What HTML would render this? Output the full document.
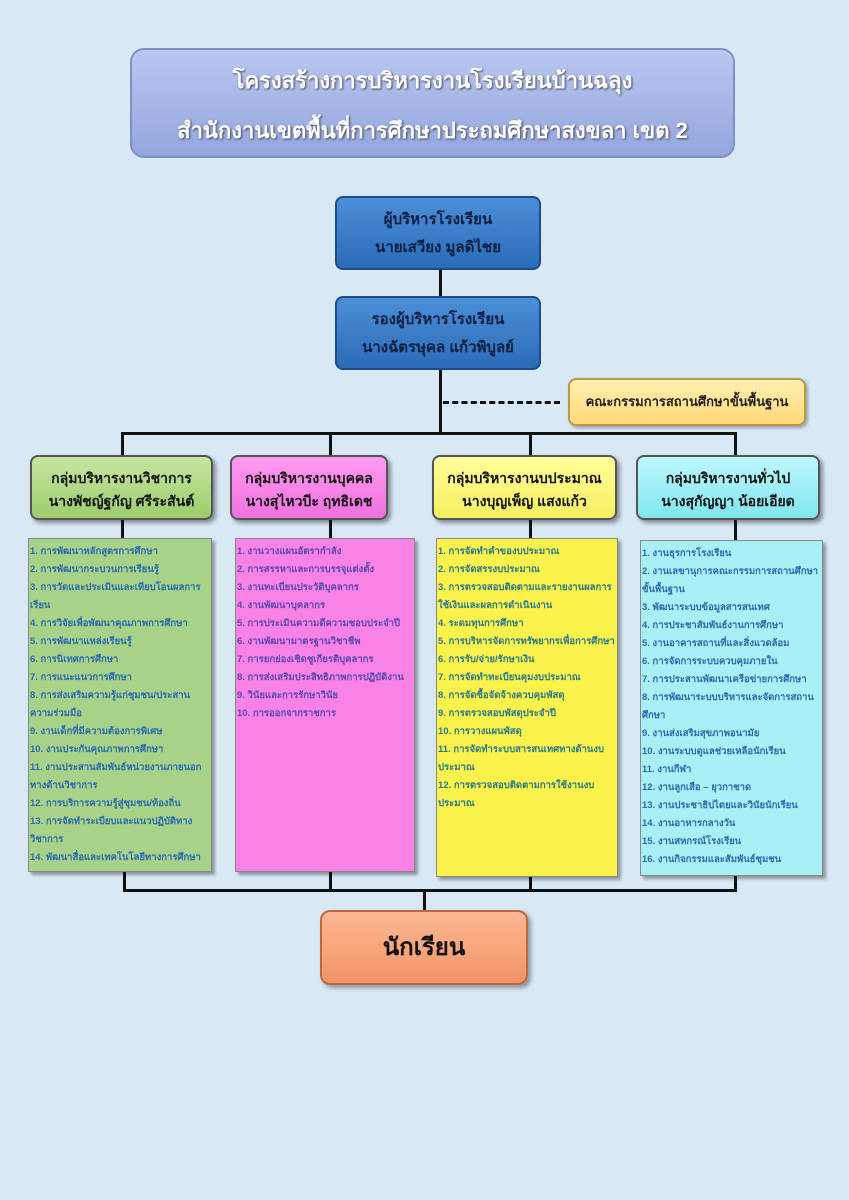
<!DOCTYPE html>
<html><head><meta charset="utf-8"><style>
body{margin:0;width:849px;height:1200px;background:#d9e8f5;position:relative;overflow:hidden;font-family:"Liberation Sans","Noto Sans CJK SC",sans-serif}
.a{position:absolute;box-sizing:border-box}
.ln{position:absolute;background:#111}
.t{text-align:center;font-weight:bold}
.list{font-size:9.5px;line-height:18px;padding:4px 1px;font-weight:bold;border:1px solid #888;box-shadow:3px 3px 3px rgba(0,0,0,.35)}
.grp{border-radius:8px;border:2px solid #555;box-shadow:3px 3px 4px rgba(0,0,0,.4);font-size:14px;line-height:23px;padding-top:10px;color:#111}
</style></head><body>
<div class="a t" style="left:130px;top:48px;width:605px;height:110px;border-radius:14px;background:linear-gradient(#b9c7f0,#93a6de);border:2px solid #7f8fc8;color:#fff;font-size:22px;line-height:50px;padding-top:6px;text-shadow:1px 1px 2px #445">โครงสร้างการบริหารงานโรงเรียนบ้านฉลุง<br>สำนักงานเขตพื้นที่การศึกษาประถมศึกษาสงขลา เขต 2</div>

<div class="a t" style="left:335px;top:196px;width:206px;height:74px;border-radius:8px;background:linear-gradient(#4b8fd6,#2b6bb8);border:2px solid #1d4c8a;font-size:15px;line-height:28px;padding-top:8px;color:#0c1e40">ผู้บริหารโรงเรียน<br>นายเสวียง มูลดิไชย</div>
<div class="ln" style="left:439px;top:270px;width:3px;height:26px"></div>
<div class="a t" style="left:335px;top:296px;width:206px;height:74px;border-radius:8px;background:linear-gradient(#4b8fd6,#2b6bb8);border:2px solid #1d4c8a;font-size:15px;line-height:28px;padding-top:8px;color:#0c1e40">รองผู้บริหารโรงเรียน<br>นางฉัตรษุคล แก้วพิบูลย์</div>
<div class="ln" style="left:439px;top:370px;width:3px;height:64px"></div>
<div class="a" style="left:443px;top:401px;width:117px;border-top:3px dashed #111"></div>
<div class="a t" style="left:568px;top:378px;width:238px;height:48px;border-radius:8px;background:linear-gradient(#fff0b0,#ffd97a);border:2px solid #b99a40;font-size:13px;line-height:44px;color:#222;box-shadow:2px 2px 3px rgba(0,0,0,.3)">คณะกรรมการสถานศึกษาขั้นพื้นฐาน</div>

<div class="ln" style="left:122px;top:432px;width:614px;height:3px"></div>
<div class="ln" style="left:121px;top:432px;width:3px;height:24px"></div>
<div class="ln" style="left:329px;top:432px;width:3px;height:24px"></div>
<div class="ln" style="left:529px;top:432px;width:3px;height:24px"></div>
<div class="ln" style="left:734px;top:432px;width:3px;height:24px"></div>

<div class="a t grp" style="left:30px;top:455px;width:183px;height:65px;background:linear-gradient(#c6e6a0,#9ccd6c)">กลุ่มบริหารงานวิชาการ<br>นางพัชญ์ฐกัญ ศรีระสันต์</div>
<div class="a t grp" style="left:230px;top:455px;width:158px;height:65px;background:linear-gradient(#ff9cf0,#f070e0)">กลุ่มบริหารงานบุคคล<br>นางสุไหวบีะ ฤทธิเดช</div>
<div class="a t grp" style="left:432px;top:455px;width:185px;height:65px;background:linear-gradient(#ffff9a,#f5f060)">กลุ่มบริหารงานบประมาณ<br>นางบุญเพ็ญ แสงแก้ว</div>
<div class="a t grp" style="left:636px;top:455px;width:184px;height:65px;background:linear-gradient(#bff8ff,#80e6f0)">กลุ่มบริหารงานทั่วไป<br>นางสุกัญญา น้อยเอียด</div>

<div class="ln" style="left:121px;top:520px;width:3px;height:18px"></div>
<div class="ln" style="left:329px;top:520px;width:3px;height:18px"></div>
<div class="ln" style="left:529px;top:520px;width:3px;height:18px"></div>
<div class="ln" style="left:734px;top:520px;width:3px;height:20px"></div>

<div class="a list" style="left:28px;top:538px;width:184px;height:334px;background:#a8d288;color:#2a6cb0">1. การพัฒนาหลักสูตรการศึกษา<br>2. การพัฒนากระบวนการเรียนรู้<br>3. การวัดและประเมินและเทียบโอนผลการเรียน<br>4. การวิจัยเพื่อพัฒนาคุณภาพการศึกษา<br>5. การพัฒนาแหล่งเรียนรู้<br>6. การนิเทศการศึกษา<br>7. การแนะแนวการศึกษา<br>8. การส่งเสริมความรู้แก่ชุมชน/ประสานความร่วมมือ<br>9. งานเด็กที่มีความต้องการพิเศษ<br>10. งานประกันคุณภาพการศึกษา<br>11. งานประสานสัมพันธ์หน่วยงานภายนอกทางด้านวิชาการ<br>12. การบริการความรู้สู่ชุมชน/ท้องถิ่น<br>13. การจัดทำระเบียบและแนวปฏิบัติทางวิชาการ<br>14. พัฒนาสื่อและเทคโนโลยีทางการศึกษา</div>
<div class="a list" style="left:235px;top:538px;width:180px;height:334px;background:#f882e6;color:#5a4ab0">1. งานวางแผนอัตรากำลัง<br>2. การสรรหาและการบรรจุแต่งตั้ง<br>3. งานทะเบียนประวัติบุคลากร<br>4. งานพัฒนาบุคลากร<br>5. การประเมินความดีความชอบประจำปี<br>6. งานพัฒนามาตรฐานวิชาชีพ<br>7. การยกย่องเชิดชูเกียรติบุคลากร<br>8. การส่งเสริมประสิทธิภาพการปฏิบัติงาน<br>9. วินัยและการรักษาวินัย<br>10. การออกจากราชการ</div>
<div class="a list" style="left:436px;top:538px;width:182px;height:339px;background:#fbf24c;color:#2a7a8a">1. การจัดทำคำของบประมาณ<br>2. การจัดสรรงบประมาณ<br>3. การตรวจสอบติดตามและรายงานผลการใช้เงินและผลการดำเนินงาน<br>4. ระดมทุนการศึกษา<br>5. การบริหารจัดการทรัพยากรเพื่อการศึกษา<br>6. การรับ/จ่าย/รักษาเงิน<br>7. การจัดทำทะเบียนคุมงบประมาณ<br>8. การจัดซื้อจัดจ้างควบคุมพัสดุ<br>9. การตรวจสอบพัสดุประจำปี<br>10. การวางแผนพัสดุ<br>11. การจัดทำระบบสารสนเทศทางด้านงบประมาณ<br>12. การตรวจสอบติดตามการใช้งานงบประมาณ</div>
<div class="a list" style="left:640px;top:540px;width:183px;height:336px;background:#a8f0f6;color:#2a6cb0">1. งานธุรการโรงเรียน<br>2. งานเลขานุการคณะกรรมการสถานศึกษาขั้นพื้นฐาน<br>3. พัฒนาระบบข้อมูลสารสนเทศ<br>4. การประชาสัมพันธ์งานการศึกษา<br>5. งานอาคารสถานที่และสิ่งแวดล้อม<br>6. การจัดการระบบควบคุมภายใน<br>7. การประสานพัฒนาเครือข่ายการศึกษา<br>8. การพัฒนาระบบบริหารและจัดการสถานศึกษา<br>9. งานส่งเสริมสุขภาพอนามัย<br>10. งานระบบดูแลช่วยเหลือนักเรียน<br>11. งานกีฬา<br>12. งานลูกเสือ – ยุวกาชาด<br>13. งานประชาธิปไตยและวินัยนักเรียน<br>14. งานอาหารกลางวัน<br>15. งานสหกรณ์โรงเรียน<br>16. งานกิจกรรมและสัมพันธ์ชุมชน</div>

<div class="ln" style="left:123px;top:872px;width:3px;height:19px"></div>
<div class="ln" style="left:329px;top:872px;width:3px;height:19px"></div>
<div class="ln" style="left:529px;top:877px;width:3px;height:14px"></div>
<div class="ln" style="left:734px;top:876px;width:3px;height:15px"></div>
<div class="ln" style="left:123px;top:889px;width:614px;height:3px"></div>
<div class="ln" style="left:423px;top:889px;width:3px;height:21px"></div>

<div class="a t" style="left:320px;top:910px;width:208px;height:75px;border-radius:10px;background:linear-gradient(#fbb893,#f39466);border:2px solid #b86a40;font-size:24px;line-height:71px;color:#111;box-shadow:3px 3px 4px rgba(0,0,0,.35)">นักเรียน</div>
</body></html>
